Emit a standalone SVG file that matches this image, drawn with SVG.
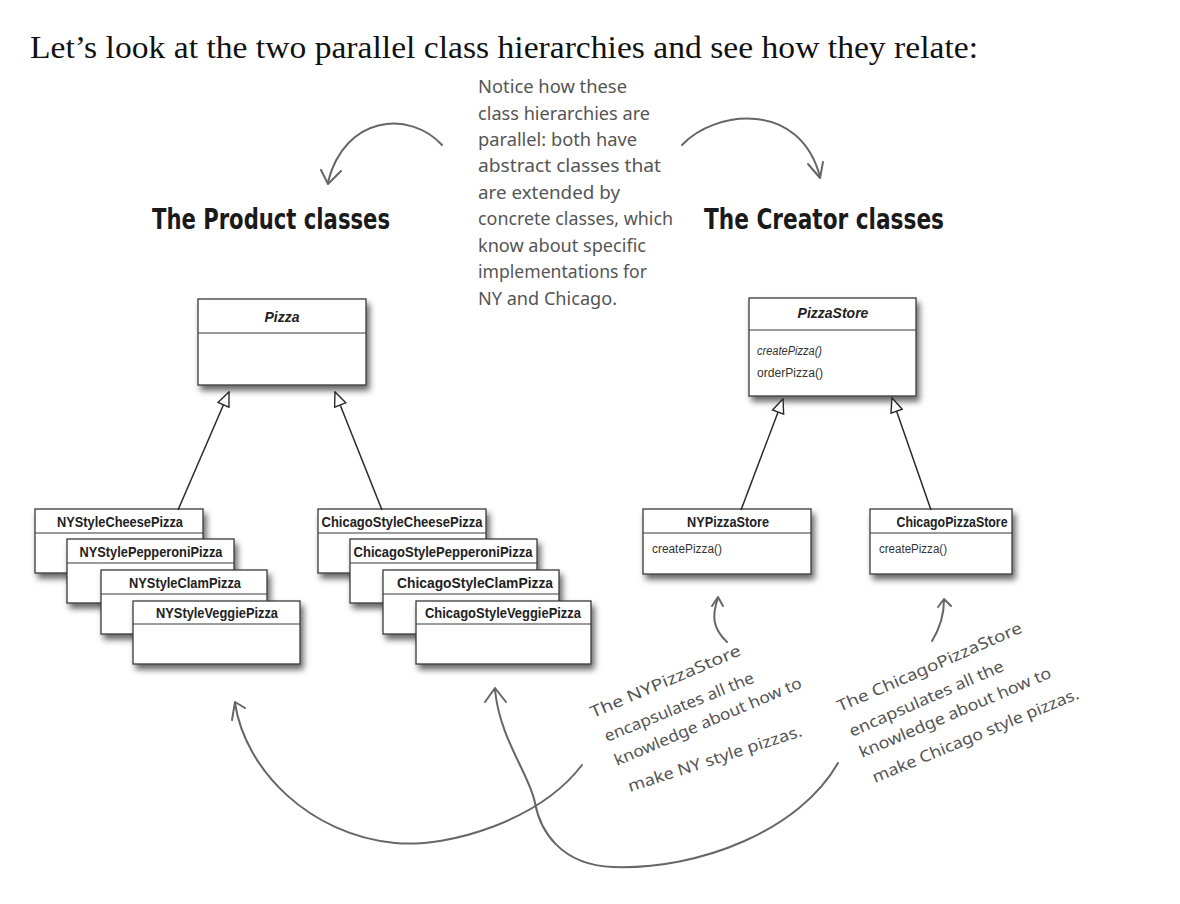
<svg xmlns="http://www.w3.org/2000/svg" width="1180" height="904" viewBox="0 0 1180 904">
<defs>
<style>
.title{font-family:"Liberation Serif",serif;font-size:31px;fill:#111}
.head{font-family:"DejaVu Sans Condensed","DejaVu Sans",sans-serif;font-weight:bold;font-size:28px;fill:#1a1a1a}
.note{font-family:"Noto Sans","DejaVu Sans",sans-serif;font-size:18px;fill:#555}
.ann{font-family:"Noto Sans","DejaVu Sans",sans-serif;font-size:16px;fill:#555}
.box{fill:#fff;stroke:#3a3a3a;stroke-width:1.3}
.div{stroke:#3a3a3a;stroke-width:1.2}
.cn{font-family:"Liberation Sans",Arial,sans-serif;font-weight:bold;font-size:15px;fill:#222;text-anchor:middle}
.cni{font-family:"Liberation Sans",Arial,sans-serif;font-weight:bold;font-style:italic;font-size:14px;fill:#222;text-anchor:middle}
.m{font-family:"Liberation Sans",Arial,sans-serif;font-size:12.5px;fill:#333}
.mi{font-family:"Liberation Sans",Arial,sans-serif;font-style:italic;font-size:12.5px;fill:#333}
.inh{stroke:#2a2a2a;stroke-width:1.5;fill:none;marker-end:url(#tri)}
.hand{stroke:#666;stroke-width:2;fill:none;stroke-linecap:round;stroke-linejoin:round}
</style>
<filter id="sh" x="-10%" y="-20%" width="130%" height="160%">
<feDropShadow dx="3" dy="5" stdDeviation="3" flood-color="#000" flood-opacity="0.6"/>
</filter>
<marker id="tri" viewBox="0 0 16 14" markerWidth="16" markerHeight="14" refX="15" refY="7" orient="auto" markerUnits="userSpaceOnUse">
<path d="M1,1 L15,7 L1,13 Z" fill="#fff" stroke="#2a2a2a" stroke-width="1.4"/>
</marker>
</defs>
<rect width="1180" height="904" fill="#fff"/>

<text class="title" x="30" y="58" textLength="948" lengthAdjust="spacingAndGlyphs">Let’s look at the two parallel class hierarchies and see how they relate:</text>

<g id="headings">
<text class="head" x="152" y="229" textLength="238" lengthAdjust="spacingAndGlyphs">The Product classes</text>
<text class="head" x="704" y="229" textLength="240" lengthAdjust="spacingAndGlyphs">The Creator classes</text>
</g>

<g id="note">
<text class="note" x="478" y="93" textLength="149" lengthAdjust="spacingAndGlyphs">Notice how these</text>
<text class="note" x="478" y="120" textLength="172" lengthAdjust="spacingAndGlyphs">class hierarchies are</text>
<text class="note" x="478" y="146" textLength="159" lengthAdjust="spacingAndGlyphs">parallel: both have</text>
<text class="note" x="478" y="172" textLength="183" lengthAdjust="spacingAndGlyphs">abstract classes that</text>
<text class="note" x="478" y="199" textLength="142" lengthAdjust="spacingAndGlyphs">are extended by</text>
<text class="note" x="478" y="225" textLength="195" lengthAdjust="spacingAndGlyphs">concrete classes, which</text>
<text class="note" x="478" y="252" textLength="168" lengthAdjust="spacingAndGlyphs">know about specific</text>
<text class="note" x="478" y="278" textLength="169" lengthAdjust="spacingAndGlyphs">implementations for</text>
<text class="note" x="478" y="305" textLength="139" lengthAdjust="spacingAndGlyphs">NY and Chicago.</text>
</g>

<g id="pizza">
<rect class="box" x="198" y="299" width="168" height="86" filter="url(#sh)"/>
<line class="div" x1="198" y1="333" x2="366" y2="333"/>
<text class="cni" x="282" y="322">Pizza</text>
</g>

<g id="pizzastore">
<rect class="box" x="749" y="298" width="167" height="98" filter="url(#sh)"/>
<line class="div" x1="749" y1="330" x2="916" y2="330"/>
<text class="cni" x="833" y="318">PizzaStore</text>
<text class="mi" x="757" y="355" textLength="65" lengthAdjust="spacingAndGlyphs">createPizza()</text>
<text class="m" x="757" y="377" textLength="66" lengthAdjust="spacingAndGlyphs">orderPizza()</text>
</g>

<g id="nycheese">
<rect class="box" x="35" y="509" width="168" height="64" filter="url(#sh)"/>
<line class="div" x1="35" y1="533" x2="203" y2="533"/>
<text class="cn" x="120" y="527" textLength="126" lengthAdjust="spacingAndGlyphs">NYStyleCheesePizza</text>
</g>
<g id="nypepperoni">
<rect class="box" x="67" y="539" width="167" height="64" filter="url(#sh)"/>
<line class="div" x1="67" y1="563" x2="234" y2="563"/>
<text class="cn" x="151" y="557" textLength="143" lengthAdjust="spacingAndGlyphs">NYStylePepperoniPizza</text>
</g>
<g id="nyclam">
<rect class="box" x="101" y="570" width="166" height="64" filter="url(#sh)"/>
<line class="div" x1="101" y1="594" x2="267" y2="594"/>
<text class="cn" x="185" y="588" textLength="112" lengthAdjust="spacingAndGlyphs">NYStyleClamPizza</text>
</g>
<g id="nyveggie">
<rect class="box" x="133" y="601" width="167" height="63" filter="url(#sh)"/>
<line class="div" x1="133" y1="624" x2="300" y2="624"/>
<text class="cn" x="217" y="618" textLength="122" lengthAdjust="spacingAndGlyphs">NYStyleVeggiePizza</text>
</g>

<g id="chicheese">
<rect class="box" x="318" y="509" width="168" height="64" filter="url(#sh)"/>
<line class="div" x1="318" y1="533" x2="486" y2="533"/>
<text class="cn" x="402" y="527" textLength="161" lengthAdjust="spacingAndGlyphs">ChicagoStyleCheesePizza</text>
</g>
<g id="chipepperoni">
<rect class="box" x="350" y="539" width="187" height="64" filter="url(#sh)"/>
<line class="div" x1="350" y1="563" x2="537" y2="563"/>
<text class="cn" x="443" y="557" textLength="179" lengthAdjust="spacingAndGlyphs">ChicagoStylePepperoniPizza</text>
</g>
<g id="chiclam">
<rect class="box" x="383" y="570" width="176" height="64" filter="url(#sh)"/>
<line class="div" x1="383" y1="594" x2="559" y2="594"/>
<text class="cn" x="475" y="588" textLength="156" lengthAdjust="spacingAndGlyphs">ChicagoStyleClamPizza</text>
</g>
<g id="chiveggie">
<rect class="box" x="416" y="601" width="175" height="63" filter="url(#sh)"/>
<line class="div" x1="416" y1="624" x2="591" y2="624"/>
<text class="cn" x="503" y="618" textLength="156" lengthAdjust="spacingAndGlyphs">ChicagoStyleVeggiePizza</text>
</g>

<g id="nypizzastore">
<rect class="box" x="643" y="509" width="168" height="65" filter="url(#sh)"/>
<line class="div" x1="643" y1="533" x2="811" y2="533"/>
<text class="cn" x="728" y="527" textLength="82" lengthAdjust="spacingAndGlyphs">NYPizzaStore</text>
<text class="m" x="652" y="553" textLength="70" lengthAdjust="spacingAndGlyphs">createPizza()</text>
</g>
<g id="chicagopizzastore">
<rect class="box" x="870" y="509" width="142" height="65" filter="url(#sh)"/>
<line class="div" x1="870" y1="533" x2="1012" y2="533"/>
<text class="cn" x="952" y="527" textLength="111" lengthAdjust="spacingAndGlyphs">ChicagoPizzaStore</text>
<text class="m" x="879" y="553" textLength="68" lengthAdjust="spacingAndGlyphs">createPizza()</text>
</g>

<g id="connectors">
<path class="inh" d="M178,510 L229,392"/>
<path class="inh" d="M382,510 L335,392"/>
<path class="inh" d="M741,510 L783,399"/>
<path class="inh" d="M931,510 L892,398"/>

<path class="hand" d="M442,145 C410,110 345,115 328,182"/>
<path class="hand" d="M321,170 L328,184 L341,171"/>
<path class="hand" d="M682,145 C715,110 800,100 820,177"/>
<path class="hand" d="M808,164 L820,178 L823,162"/>

<path class="hand" d="M727,642 C712,628 712,615 718,598"/>
<path class="hand" d="M712,606 L718,597 L723,606"/>
<path class="hand" d="M932,641 C940,628 944,614 944,600"/>
<path class="hand" d="M938,607 L944,599 L951,606"/>

<path class="hand" d="M582,765 C540,820 450,848 395,843 C310,835 245,770 235,703"/>
<path class="hand" d="M232,720 L235,702 L245,708"/>
<path class="hand" d="M838,763 C800,830 700,870 613,867 C560,865 540,830 535,803 C530,775 500,740 495,690"/>
<path class="hand" d="M485,702 L495,688 L506,702"/>
</g>

<g id="ny-annotation">
<text class="ann" x="593" y="718" transform="rotate(-23 593 718)" textLength="162" lengthAdjust="spacingAndGlyphs">The NYPizzaStore</text>
<text class="ann" x="607" y="742" transform="rotate(-22 607 742)" textLength="160" lengthAdjust="spacingAndGlyphs">encapsulates all the</text>
<text class="ann" x="617" y="766" transform="rotate(-23 617 766)" textLength="202" lengthAdjust="spacingAndGlyphs">knowledge about how to</text>
<text class="ann" x="630" y="792" transform="rotate(-18 630 792)" textLength="182" lengthAdjust="spacingAndGlyphs">make NY style pizzas.</text>
</g>
<g id="chicago-annotation">
<text class="ann" x="840" y="712" transform="rotate(-23.6 840 712)" textLength="200" lengthAdjust="spacingAndGlyphs">The ChicagoPizzaStore</text>
<text class="ann" x="852" y="737" transform="rotate(-23.6 852 737)" textLength="167" lengthAdjust="spacingAndGlyphs">encapsulates all the</text>
<text class="ann" x="862" y="758" transform="rotate(-23 862 758)" textLength="207" lengthAdjust="spacingAndGlyphs">knowledge about how to</text>
<text class="ann" x="875" y="783" transform="rotate(-22.5 875 783)" textLength="222" lengthAdjust="spacingAndGlyphs">make Chicago style pizzas.</text>
</g>
</svg>
